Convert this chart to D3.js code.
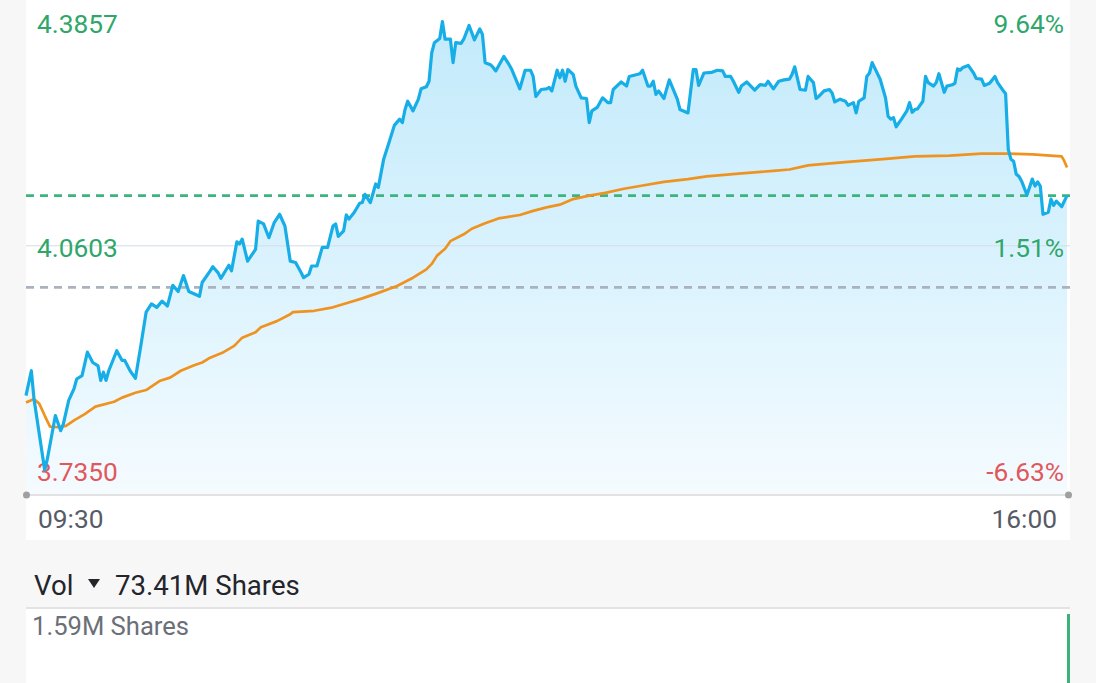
<!DOCTYPE html>
<html><head><meta charset="utf-8">
<script src="https://cdn.jsdelivr.net/npm/d3@7"></script>
<style>html,body{margin:0;padding:0;background:#f7f7f7;overflow:hidden}svg{display:block;font-family:Roboto,"Noto Sans",sans-serif}</style>
</head><body><svg id="c" width="1096" height="683"></svg>
<script>
// ---- data (minutes after 09:30, price) ----
const priceMinutes = [0,2,3,7,8,11,13,14,16,18,19,21,23,25,27,28,29,30,31,34,36,37,39,41,43,45,47,49,51,53,55,57,59,61,65,66,69,70,72,73,76,77,79,80,81,83,86,87,89,91,93,95,97,99,101,103,104,106,107,109,111,113,115,116,117,119,120,121,123,125,126,127,129,131,132,134,136,138,140,141,142,143,145,147,148,150,151,152,153,155,156,157,159,160,161,163,164,166,168,170,171,172,174,175,176,179,181,182,185,187,189,190,191,193,195,196,197,199,200,201,202,203,205,206,208,210,211,212,214,216,218,219,220,223,225,226,230,231,233,234,235,236,237,239,241,244,245,248,250,251,252,254,257,259,261,262,264,265,267,268,270,271,273,275,277,278,280,282,284,286,287,288,290,292,293,295,296,297,299,301,302,303,305,307,308,310,311,312,314,315,316,317,320,322,323,324,325,326,328,330,331,332,333,334,336,337,338,340,341,342,344,345,347,348,349,350,351,353,355,356,358,359,361,363,364,366,367,368,369,370,371,372,373,375,377,378,379,380,381,383,384,385,386,388,390];
const priceValues = [3.843,3.879,3.838,3.735,3.751,3.814,3.792,3.802,3.836,3.853,3.867,3.872,3.906,3.891,3.886,3.865,3.877,3.865,3.879,3.908,3.894,3.894,3.879,3.868,3.915,3.964,3.976,3.971,3.980,3.973,4.003,3.994,4.017,3.994,3.987,4.007,4.024,4.030,4.021,4.013,4.032,4.024,4.066,4.063,4.070,4.038,4.055,4.096,4.092,4.072,4.094,4.106,4.089,4.038,4.036,4.022,4.014,4.019,4.031,4.031,4.058,4.058,4.089,4.092,4.074,4.082,4.105,4.099,4.109,4.122,4.123,4.135,4.123,4.150,4.145,4.186,4.210,4.235,4.244,4.239,4.258,4.270,4.256,4.273,4.288,4.291,4.299,4.340,4.355,4.361,4.3857,4.360,4.360,4.326,4.355,4.354,4.360,4.380,4.359,4.375,4.367,4.326,4.323,4.319,4.314,4.335,4.323,4.316,4.288,4.315,4.315,4.306,4.277,4.287,4.288,4.290,4.285,4.315,4.304,4.315,4.299,4.316,4.309,4.292,4.275,4.274,4.239,4.256,4.261,4.275,4.268,4.268,4.287,4.298,4.292,4.306,4.310,4.315,4.292,4.292,4.299,4.280,4.285,4.274,4.301,4.273,4.258,4.253,4.316,4.316,4.293,4.311,4.312,4.315,4.314,4.306,4.306,4.299,4.283,4.292,4.298,4.294,4.286,4.294,4.293,4.299,4.288,4.299,4.301,4.302,4.309,4.320,4.287,4.286,4.306,4.297,4.274,4.277,4.285,4.287,4.282,4.269,4.273,4.270,4.264,4.268,4.253,4.270,4.275,4.306,4.311,4.326,4.302,4.275,4.248,4.244,4.246,4.233,4.244,4.256,4.268,4.254,4.258,4.259,4.270,4.306,4.297,4.292,4.297,4.310,4.283,4.292,4.294,4.296,4.317,4.315,4.319,4.322,4.311,4.303,4.302,4.293,4.296,4.306,4.297,4.286,4.281,4.200,4.186,4.183,4.164,4.161,4.154,4.134,4.157,4.147,4.153,4.147,4.106,4.109,4.128,4.119,4.125,4.117,4.133];

const avgMinutes = [0,3,5,7,9,12,15,18,22,26,33,36,41,45,50,54,58,63,66,69,74,78,81,86,88,94,99,100,108,115,120,126,132,139,145,150,152,154,157,159,164,167,172,177,185,190,195,200,205,211,217,224,230,239,248,255,267,280,286,293,296,308,321,333,346,358,367,377,388,389,390];
const avgValues = [3.833,3.838,3.831,3.814,3.798,3.797,3.799,3.807,3.816,3.827,3.834,3.840,3.847,3.851,3.864,3.869,3.879,3.887,3.891,3.898,3.906,3.915,3.927,3.935,3.942,3.951,3.961,3.964,3.966,3.971,3.977,3.984,3.992,4.002,4.014,4.026,4.034,4.046,4.056,4.067,4.077,4.085,4.093,4.100,4.105,4.111,4.116,4.120,4.128,4.133,4.137,4.143,4.147,4.153,4.157,4.161,4.165,4.169,4.171,4.177,4.178,4.182,4.186,4.190,4.191,4.194,4.194,4.193,4.190,4.183,4.174];

const prevClose = 4.00;
const lastPrice = 4.133;
const priceTicks = [4.3857, 4.0603, 3.7350];
const priceTickLabels = ["4.3857", "4.0603", "3.7350"];
const pctTickLabels = ["9.64%", "1.51%", "-6.63%"];
const timeTickMinutes = [0, 390];
const timeTickLabels = ["09:30", "16:00"];
const volMinutes = [390];
const volValues = [1.59];
const volTitle = "Vol";
const volTotalLabel = "73.41M Shares";
const volMaxLabel = "1.59M Shares";

// ---- drawing ----
const svg = d3.select("#c");
const x = d3.scaleLinear().domain([0, 390]).range([26, 1067]);
const y = d3.scaleLinear().domain([3.7350, 4.3857]).range([470, 21.5]);
const axisY = 495;

svg.append("rect").attr("x", 26).attr("y", 0).attr("width", 1044).attr("height", 540).attr("fill", "#fff");
svg.append("rect").attr("x", 26).attr("y", 609).attr("width", 1044).attr("height", 80).attr("fill", "#fff");
svg.append("line").attr("x1", 26).attr("x2", 1070).attr("y1", 608).attr("y2", 608).attr("stroke", "#e3e3e3").attr("stroke-width", 2);

const defs = svg.append("defs");
const grad = defs.append("linearGradient").attr("id", "ag").attr("gradientUnits", "userSpaceOnUse")
  .attr("x1", 0).attr("y1", 21).attr("x2", 0).attr("y2", axisY);
grad.append("stop").attr("offset", 0).attr("stop-color", "#c3eafb");
grad.append("stop").attr("offset", 0.55).attr("stop-color", "#dcf3fd");
grad.append("stop").attr("offset", 1).attr("stop-color", "#f5fbff");

const pts = priceMinutes.map((m, i) => ({ m, p: priceValues[i] }));
const avg = avgMinutes.map((m, i) => ({ m, p: avgValues[i] }));

svg.append("path").datum(pts).attr("fill", "url(#ag)")
  .attr("d", d3.area().x(d => x(d.m)).y0(axisY).y1(d => y(d.p)));

// mid grid line
svg.append("line").attr("x1", 26).attr("x2", 1070).attr("y1", y(priceTicks[1])).attr("y2", y(priceTicks[1]))
  .attr("stroke", "#d3dde6").attr("stroke-width", 1);

// reference dashed lines
svg.append("line").attr("x1", 26).attr("x2", 1070).attr("y1", y(prevClose)).attr("y2", y(prevClose))
  .attr("stroke", "#a9b2be").attr("stroke-width", 2.8).attr("stroke-dasharray", "8,6");
svg.append("line").attr("x1", 26).attr("x2", 1070).attr("y1", y(lastPrice)).attr("y2", y(lastPrice))
  .attr("stroke", "#3bb57b").attr("stroke-width", 2.8).attr("stroke-dasharray", "8,6");

// tick labels
const tickColors = ["#2fa66a", "#2fa66a", "#e0585b"];
priceTicks.forEach((v, i) => {
  svg.append("text").attr("x", 37).attr("y", y(v) + 11).attr("font-size", 26.3).attr("fill", tickColors[i]).text(priceTickLabels[i]);
  svg.append("text").attr("x", 1064).attr("y", y(v) + 11).attr("text-anchor", "end").attr("font-size", 26.3).attr("fill", tickColors[i]).text(pctTickLabels[i]);
});

// lines
svg.append("path").datum(avg).attr("fill", "none").attr("stroke", "#ef9320").attr("stroke-width", 2.7)
  .attr("stroke-linejoin", "round").attr("d", d3.line().x(d => x(d.m)).y(d => y(d.p)));
svg.append("path").datum(pts).attr("fill", "none").attr("stroke", "#17aee8").attr("stroke-width", 3.2)
  .attr("stroke-linejoin", "round").attr("d", d3.line().x(d => x(d.m)).y(d => y(d.p)));

// x axis
svg.append("line").attr("x1", 26).attr("x2", 1069).attr("y1", axisY).attr("y2", axisY).attr("stroke", "#e2e2e2").attr("stroke-width", 2);
[26.5, 1068.5].forEach(cx => svg.append("circle").attr("cx", cx).attr("cy", axisY).attr("r", 3.5).attr("fill", "#a0a0a0"));
timeTickMinutes.forEach((m, i) => {
  svg.append("text").attr("x", i === 0 ? x(m) + 12 : x(m) - 10).attr("y", 528)
    .attr("text-anchor", i === 0 ? "start" : "end").attr("font-size", 26.3).attr("fill", "#565b66").text(timeTickLabels[i]);
});

// volume header
svg.append("text").attr("x", 34).attr("y", 595).attr("font-size", 27.6).attr("fill", "#23252b").text(volTitle);
svg.append("path").attr("d", "M88,579 L100,579 L94,588 Z").attr("fill", "#23252b");
svg.append("text").attr("x", 115).attr("y", 595).attr("font-size", 27.6).attr("fill", "#23252b").text(volTotalLabel);
svg.append("text").attr("x", 32).attr("y", 635).attr("font-size", 25.6).attr("fill", "#6b6f78").text(volMaxLabel);

// volume bars
const yv = d3.scaleLinear().domain([0, 1.59]).range([780, 614]);
volMinutes.forEach((m, i) => {
  svg.append("rect").attr("x", x(m)).attr("y", yv(volValues[i])).attr("width", 3)
    .attr("height", yv(0) - yv(volValues[i])).attr("fill", "#3bb27a");
});
</script></body></html>
